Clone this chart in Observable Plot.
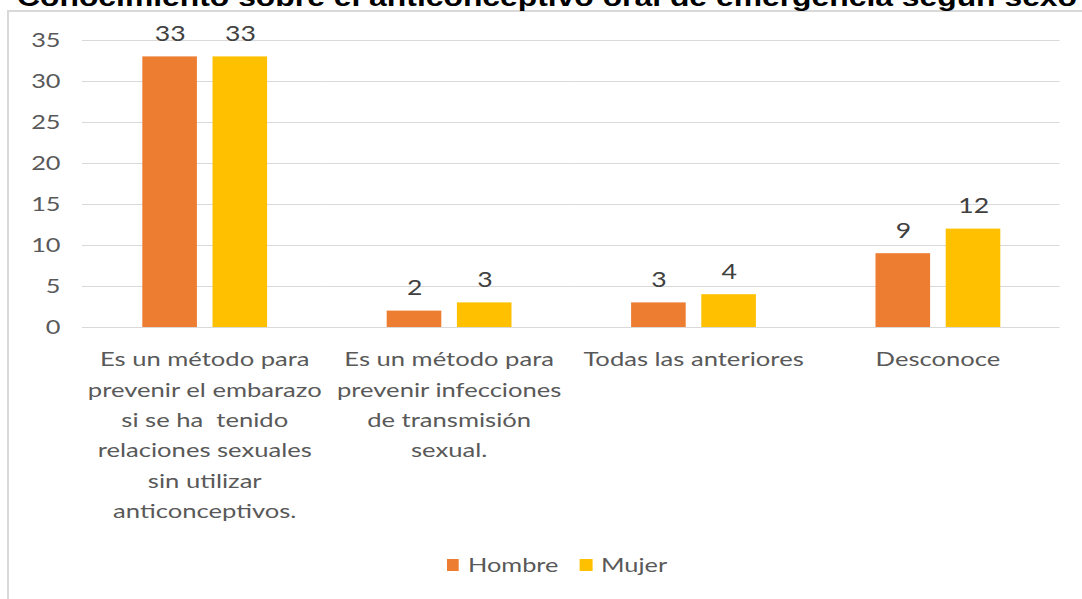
<!DOCTYPE html>
<html>
<head>
<meta charset="utf-8">
<script src="https://cdn.jsdelivr.net/npm/d3@7"></script>
<script src="https://cdn.jsdelivr.net/npm/@observablehq/plot@0.6"></script>
<style>
  html, body { margin: 0; padding: 0; background: #fff; overflow: hidden; }
  #page { position: relative; width: 1082px; height: 599px; overflow: hidden; }
  #frame { position: absolute; left: 7px; top: 10px; width: 1200px; height: 700px;
           border-left: 2px solid #d9d9d9; border-top: 2px solid #d9d9d9; }
  #title { position: absolute; left: 0; top: 0; }
  #chart { position: absolute; left: 0; top: 0; }
  #legend { position: absolute; left: 447px; top: 553px; height: 24px; width: 300px;
            transform-origin: 0 0; font-family: Lato, sans-serif; font-size: 19.5px; color: #595959; }
  #legend .sw { position: absolute; top: 6px; height: 12px; }
  #legend .lb { position: absolute; top: 0; line-height: 24px; white-space: nowrap; }
</style>
</head>
<body>
<div id="page">
  <div id="frame"></div>
  <svg id="title" width="1082" height="20">
    <text x="17" y="5.5" font-family="Liberation Sans, Arial, sans-serif" font-weight="bold" font-size="26" fill="#000" textLength="1060" lengthAdjust="spacingAndGlyphs">Conocimiento sobre el anticonceptivo oral de emergencia según sexo</text>
  </svg>
  <div id="chart"></div>
  <div id="legend"></div>
</div>
<script>
// ---- data ----
const categories = ["Prevenir embarazo", "Prevenir ITS", "Todas las anteriores", "Desconoce"];
const tickLabels = [
  "Es un método para\nprevenir el embarazo\nsi se ha  tenido\nrelaciones sexuales\nsin utilizar\nanticonceptivos.",
  "Es un método para\nprevenir infecciones\nde transmisión\nsexual.",
  "Todas las anteriores",
  "Desconoce"
];
const series = ["Hombre", "Mujer"];
const hombre = [33, 2, 3, 9];
const mujer = [33, 3, 4, 12];
const yTicks = [0, 5, 10, 15, 20, 25, 30, 35];
const colors = ["#ED7D31", "#FFC000"];

const rows = [];
categories.forEach((c, i) => {
  rows.push({cat: c, sexo: series[0], value: hombre[i]});
  rows.push({cat: c, sexo: series[1], value: mujer[i]});
});

const S = 1.3; // horizontal stretch of the reference image
const W = 1082 / S;
const H = 540;

const plot = Plot.plot({
  width: W,
  height: H,
  marginLeft: 80 / S,
  marginRight: 20 / S,
  marginTop: 40,
  marginBottom: 213,
  style: {fontFamily: "Lato, sans-serif", fontSize: "19px", color: "#595959", background: "transparent"},
  fx: {domain: categories, padding: 0, label: null},
  x: {domain: series, paddingInner: 0.225, paddingOuter: 0.84, axis: null},
  y: {domain: [0, 35], label: null},
  color: {domain: series, range: colors},
  marks: [
    Plot.gridY(yTicks, {stroke: "#d9d9d9", strokeOpacity: 1, strokeWidth: 1}),
    Plot.axisY(yTicks, {tickSize: 0, tickPadding: 22 / S, fontSize: 19.5, fill: "#595959"}),
    Plot.axisFx({anchor: "bottom", tickSize: 0, tickPadding: 17, lineHeight: 1.545, fontSize: 19.7, fill: "#595959",
                 tickFormat: d => tickLabels[categories.indexOf(d)], label: null}),
    Plot.barY(rows, {fx: "cat", x: "sexo", y: "value", fill: "sexo"}),
    Plot.text(rows, {fx: "cat", x: "sexo", y: "value", text: d => String(d.value), dy: -16,
                     lineAnchor: "bottom", fill: "#404040", fontSize: 20.5})
  ]
});
plot.setAttribute("width", 1082);
plot.setAttribute("height", H);
plot.setAttribute("preserveAspectRatio", "none");
plot.style.maxWidth = "none";
plot.style.height = H + "px";
plot.style.width = "1082px";
document.getElementById("chart").appendChild(plot);

// legend
const leg = document.getElementById("legend");
leg.style.transform = `scaleX(${S})`;
const swX = [0, (580 - 447) / S];
const lbX = [(468 - 447) / S, (601 - 447) / S];
series.forEach((s, i) => {
  const sw = document.createElement("span");
  sw.className = "sw";
  sw.style.left = swX[i] + "px";
  sw.style.width = (12 / S) + "px";
  sw.style.background = colors[i];
  leg.appendChild(sw);
  const lb = document.createElement("span");
  lb.className = "lb";
  lb.style.left = lbX[i] + "px";
  lb.textContent = s;
  leg.appendChild(lb);
});
</script>
</body>
</html>
